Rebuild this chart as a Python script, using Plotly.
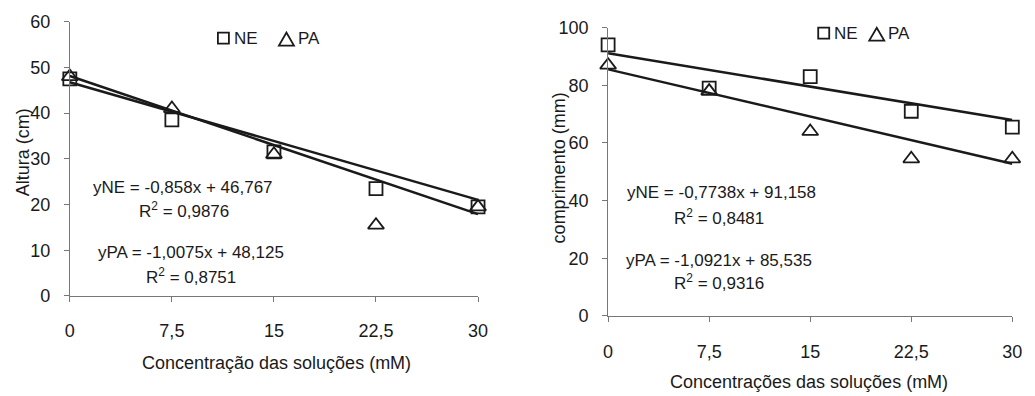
import plotly.graph_objects as go

conc = [0, 7.5, 15, 22.5, 30]
tick_labels = ["0", "7,5", "15", "22,5", "30"]

# Left: Altura (cm)
alt_ne = [47.5, 38.5, 31.5, 23.5, 19.5]
alt_pa = [48.0, 41.0, 31.0, 15.5, 19.5]
alt_fit_ne = [-0.858, 46.767]
alt_fit_pa = [-1.0075, 48.125]

# Right: comprimento (mm)
com_ne = [94.0, 79.0, 83.0, 71.0, 65.5]
com_pa = [87.0, 78.0, 64.0, 54.5, 54.5]
com_fit_ne = [-0.7738, 91.158]
com_fit_pa = [-1.0921, 85.535]

FONT = "Liberation Sans, Arial, sans-serif"
INK = "#1a1a1a"
W, H = 1035, 396


# map a target screen pixel to paper fraction (compensates page offset/scale)
def PX(t):
    return (t - 12.2) / 0.985 / W


def PY(t):
    return 1 - (t - 17.3) / 0.952 / H


fig = go.Figure()


def add_panel(xa, ya, ne, pa, fit_ne, fit_pa):
    xs = [conc[0], conc[-1]]
    for fit in (fit_ne, fit_pa):
        fig.add_trace(go.Scatter(
            x=xs, y=[fit[0] * x + fit[1] for x in xs], mode="lines",
            line=dict(color=INK, width=2.5), showlegend=False,
            xaxis=xa, yaxis=ya, cliponaxis=False))
    fig.add_trace(go.Scatter(
        x=conc, y=ne, mode="markers", name="NE", showlegend=False,
        marker=dict(symbol="square-open", size=13, color=INK, line=dict(width=1.8)),
        xaxis=xa, yaxis=ya, cliponaxis=False))
    fig.add_trace(go.Scatter(
        x=conc, y=pa, mode="markers", name="PA", showlegend=False,
        marker=dict(symbol="triangle-up-open", size=14, color=INK, line=dict(width=1.8)),
        xaxis=xa, yaxis=ya, cliponaxis=False))


add_panel("x", "y", alt_ne, alt_pa, alt_fit_ne, alt_fit_pa)
add_panel("x2", "y2", com_ne, com_pa, com_fit_ne, com_fit_pa)

axis_common = dict(showgrid=False, zeroline=False, showline=True, linecolor="#777",
                   linewidth=1, ticks="outside", tickcolor="#777", ticklen=5,
                   tickfont=dict(family=FONT, size=18, color=INK))

fig.update_layout(
    width=W, height=H, margin=dict(l=0, r=0, t=0, b=0),
    paper_bgcolor="white", plot_bgcolor="white",
    font=dict(family=FONT, color=INK, size=16),
    showlegend=False,
    xaxis=dict(domain=[PX(69), PX(477)], range=[0, 30], tickvals=conc, ticktext=tick_labels,
               anchor="y", ticklabelstandoff=13, **axis_common),
    yaxis=dict(domain=[PY(296), PY(21)], range=[0, 60], dtick=10,
               anchor="x", ticklabelstandoff=10, **axis_common),
    xaxis2=dict(domain=[PX(607), PX(1011)], range=[0, 30], tickvals=conc, ticktext=tick_labels,
                anchor="y2", ticklabelstandoff=14, **axis_common),
    yaxis2=dict(domain=[PY(316), PY(27)], range=[0, 100], dtick=20,
                anchor="x2", ticklabelstandoff=10, **axis_common),
)


def ann(x, y, text, size=17, angle=0, xanchor="center"):
    fig.add_annotation(x=PX(x), y=PY(y), xref="paper", yref="paper", text=text,
                       showarrow=False, textangle=angle,
                       font=dict(family=FONT, size=size, color=INK),
                       xanchor=xanchor, yanchor="middle")


# Legend keys (decorative shapes) and labels
def legend_square(x0, y0, s):
    fig.add_shape(type="rect", xref="paper", yref="paper",
                  x0=PX(x0), x1=PX(x0 + s), y0=PY(y0 + s), y1=PY(y0),
                  line=dict(color=INK, width=1.8), fillcolor="rgba(0,0,0,0)")


def legend_triangle(xc, ybase, w, h):
    path = (f"M {PX(xc - w / 2)} {PY(ybase)} L {PX(xc + w / 2)} {PY(ybase)} "
            f"L {PX(xc)} {PY(ybase - h)} Z")
    fig.add_shape(type="path", xref="paper", yref="paper", path=path,
                  line=dict(color=INK, width=1.8), fillcolor="rgba(0,0,0,0)")


legend_square(217, 32, 11)
legend_triangle(285.5, 45, 15, 13)
legend_square(817, 27, 11)
legend_triangle(875.5, 40, 15, 13)
ann(231, 38, "NE", 17, xanchor="left")
ann(295, 38, "PA", 17, xanchor="left")
ann(831, 33, "NE", 17, xanchor="left")
ann(885, 33, "PA", 17, xanchor="left")

# Axis titles
ann(276, 363, "Concentração das soluções (mM)", 18)
ann(23, 152, "Altura (cm)", 18, -90)
ann(808, 382, "Concentrações das soluções (mM)", 18)
ann(558, 168, "comprimento (mm)", 18, -90)

# Equations
ann(182, 187, "yNE = -0,858x + 46,767")
ann(183, 210, "R<sup>2</sup> = 0,9876")
ann(190, 252, "yPA = -1,0075x + 48,125")
ann(190, 276, "R<sup>2</sup> = 0,8751")
ann(720, 192, "yNE = -0,7738x + 91,158")
ann(718, 217, "R<sup>2</sup> = 0,8481")
ann(718, 260, "yPA = -1,0921x + 85,535")
ann(718, 282, "R<sup>2</sup> = 0,9316")

fig.write_html("out.html")
